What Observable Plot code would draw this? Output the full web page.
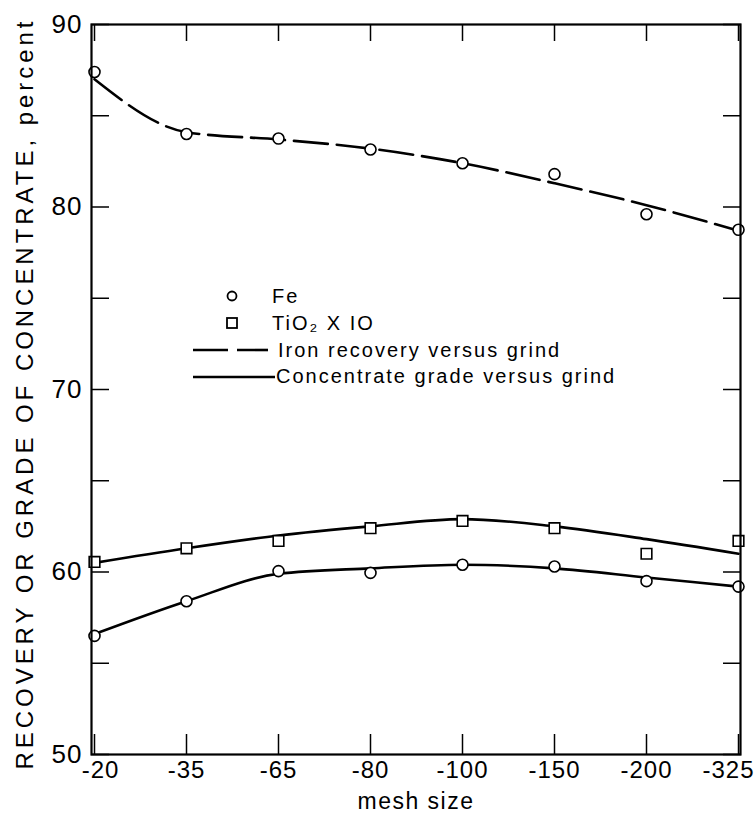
<!DOCTYPE html>
<html><head><meta charset="utf-8">
<script src="https://cdn.jsdelivr.net/npm/d3@7"></script>
<script src="https://cdn.jsdelivr.net/npm/@observablehq/plot@0.6"></script>
<style>
html,body{margin:0;padding:0;background:#fff;}
#chart svg{display:block;}
</style>
</head><body><div id="chart"></div>
<script>
// categories (mesh size)
const mesh = ["-20","-35","-65","-80","-100","-150","-200","-325"];
// measured points
const feRecovery = [87.4, 84.0, 83.75, 83.15, 82.4, 81.8, 79.6, 78.75];
const tio2Grade  = [60.55, 61.3, 61.7, 62.4, 62.8, 62.4, 61.0, 61.7];
const feGrade    = [56.5, 58.4, 60.05, 59.95, 60.4, 60.3, 59.5, 59.2];
// fitted curves
const feRecoveryFit = [87.0, 84.1, 83.7, 83.2, 82.4, 81.3, 80.1, 78.7];
const tio2Fit       = [60.5, 61.3, 62.0, 62.5, 62.9, 62.5, 61.8, 61.0];
const feGradeFit    = [56.6, 58.4, 59.9, 60.2, 60.4, 60.2, 59.7, 59.2];
// ticks
const yMajor = [50, 60, 70, 80, 90];
const yMinor = [50, 55, 60, 65, 70, 75, 80, 85, 90];
const yLabel = "RECOVERY OR GRADE OF CONCENTRATE, percent";
const xLabel = "mesh size";
const legendItems = ["Fe", "TiO\u2082 X IO", "Iron recovery versus grind", "Concentrate grade versus grind"];

const rows = vals => mesh.map((m, i) => ({mesh: m, value: vals[i]}));
const font = "'Liberation Sans', Arial, sans-serif";

const plot = Plot.plot({
  width: 756, height: 813,
  marginLeft: 91, marginRight: 16, marginTop: 24, marginBottom: 59,
  style: {fontFamily: font, background: "#fff", color: "#000", overflow: "visible"},
  x: {type: "point", domain: mesh, padding: 0},
  y: {domain: [50, 90]},
  marks: [
    Plot.line(rows(feRecoveryFit), {x: "mesh", y: "value", curve: "monotone-x", stroke: "#000", strokeWidth: 2.6, strokeDasharray: "34,9"}),
    Plot.line(rows(tio2Fit), {x: "mesh", y: "value", curve: "monotone-x", stroke: "#000", strokeWidth: 2.6}),
    Plot.line(rows(feGradeFit), {x: "mesh", y: "value", curve: "monotone-x", stroke: "#000", strokeWidth: 2.6}),
    Plot.dot(rows(feRecovery), {x: "mesh", y: "value", r: 5.5, stroke: "#000", strokeWidth: 1.6, fill: "#fff"}),
    Plot.dot(rows(tio2Grade), {x: "mesh", y: "value", symbol: "square", r: 6, stroke: "#000", strokeWidth: 1.6, fill: "#fff"}),
    Plot.dot(rows(feGrade), {x: "mesh", y: "value", r: 5.5, stroke: "#000", strokeWidth: 1.6, fill: "#fff"}),
    Plot.frame({stroke: "#000", strokeWidth: 2.2}),
    Plot.axisY(yMinor, {anchor: "left", tickSize: -18, strokeWidth: 1.5, fill: "none", label: null}),
    Plot.axisY(yMinor, {anchor: "right", tickSize: -18, strokeWidth: 1.5, fill: "none", label: null}),
    Plot.axisY(yMajor, {anchor: "left", tickSize: 0, tickPadding: 9, fontSize: 26, label: null}),
    Plot.axisX(mesh, {anchor: "top", tickSize: -16, strokeWidth: 1.5, fill: "none", label: null}),
    Plot.axisX(mesh, {anchor: "bottom", tickSize: -20, strokeWidth: 1.5, fill: "none", label: null}),
    Plot.axisX(mesh, {anchor: "bottom", tickSize: 0, tickPadding: 6, fontSize: 24, label: xLabel, labelAnchor: "center", labelOffset: 54, labelArrow: "none"}),
    Plot.text([yLabel], {frameAnchor: "left", dx: -66, dy: 380, rotate: -90, textAnchor: "start", fontSize: 24, fill: "#000"})
  ]
});

document.getElementById("chart").appendChild(plot);

const svg = d3.select(plot);
// stretch the y label to its full length, as in the original
svg.selectAll("text").filter(function() { return this.textContent === yLabel; })
  .attr("textLength", 748).attr("lengthAdjust", "spacing");
svg.selectAll("text").filter(function() { return this.textContent === xLabel; })
  .attr("font-size", 23).attr("letter-spacing", 1.5);
// tick label spacing tweaks
svg.selectAll("text").filter(function() { return mesh.includes(this.textContent) || yMajor.map(String).includes(this.textContent); })
  .attr("letter-spacing", 1);
svg.selectAll("text").filter(function() { return this.textContent === "-325"; }).attr("dx", -10);
svg.selectAll("text").filter(function() { return this.textContent === "-20"; }).attr("dx", 6);

// legend (inside the plot area)
const lg = svg.append("g").attr("font-family", font).attr("font-size", 20)
  .attr("letter-spacing", 2).attr("text-anchor", "start").attr("fill", "#000");
lg.append("circle").attr("cx", 232).attr("cy", 296).attr("r", 4.5).attr("fill", "#fff").attr("stroke", "#000").attr("stroke-width", 1.8);
lg.append("rect").attr("x", 227).attr("y", 318).attr("width", 10).attr("height", 10).attr("fill", "#fff").attr("stroke", "#000").attr("stroke-width", 1.8);
lg.append("line").attr("x1", 193).attr("x2", 268).attr("y1", 350).attr("y2", 350).attr("stroke", "#000").attr("stroke-width", 2.6).attr("stroke-dasharray", "35,9");
lg.append("line").attr("x1", 193).attr("x2", 275).attr("y1", 377).attr("y2", 377).attr("stroke", "#000").attr("stroke-width", 2.6);
const ty = [303, 330, 357, 383];
const tx = [272, 272, 278, 276];
legendItems.forEach((t, i) => lg.append("text").attr("x", tx[i]).attr("y", ty[i]).text(t));
</script>
</body></html>
